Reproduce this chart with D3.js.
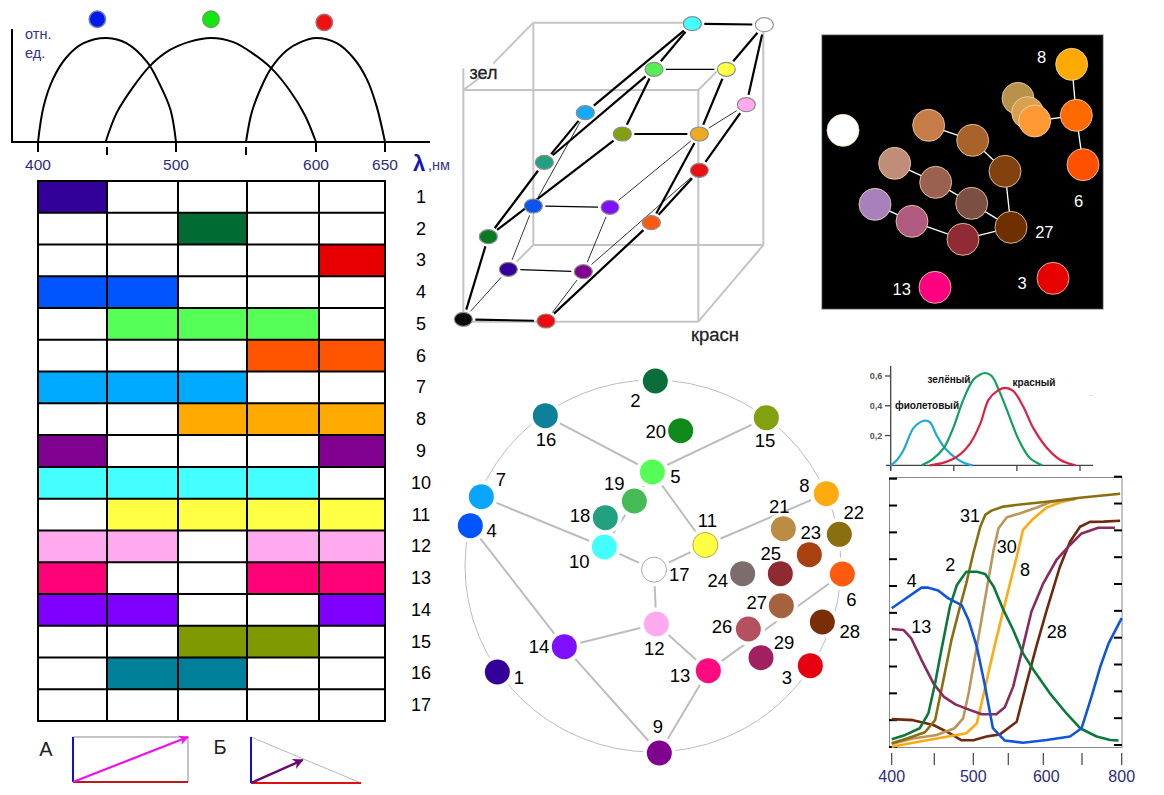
<!DOCTYPE html>
<html><head><meta charset="utf-8">
<style>html,body{margin:0;padding:0;background:#fff}svg{display:block}text{font-family:"Liberation Sans",Arial,sans-serif}</style>
<script src="https://cdn.jsdelivr.net/npm/d3@7/dist/d3.min.js"></script>
</head><body><svg id="c" width="1164" height="795"></svg>
<script>
// ---- Panel 1: sensitivity curves
const coneTicks=[400,450,500,550,600,650];
const coneLabels=[400,500,600,650];
const coneBlue=[[400,0],[404,.34],[411,.61],[421,.82],[433,.95],[450,1],[464,.95],[479,.77],[488,.56],[496,.31],[500,0]];
const coneGreen=[[449,0],[457,.28],[469,.53],[481,.73],[495,.88],[510,.965],[525,1],[541,.96],[555,.85],[568,.71],[581,.50],[592,.26],[600,0]];
const coneRed=[[550,0],[554,.28],[560,.5],[568,.71],[579,.88],[589,.96],[600,1],[615,.95],[627,.81],[637,.6],[644,.34],[650,0]];
const coneDotNm=[443,525,606];
const coneDotLevel=[1.18,1.18,1.15];
const coneDotFill=["#0018e8","#10e810","#f01010"];
const coneDotStroke=["#6a7cc8","#5aa85a","#b06a6a"];
// ---- Panel 2: table of spectral zones
const tableRows=d3.range(1,18);
const tableBands=[0,1,2,3,4];
const rowBands=[[0],[2],[4],[0,1],[1,2,3],[3,4],[0,1,2],[2,3,4],[0,4],[0,1,2,3],[1,2,3,4],[0,1,3,4],[0,3,4],[0,1,4],[2,3],[1,2],[]];
const rowColors=["#330099","#006b33","#e60000","#0055ff","#55ff55","#ff5500","#00aaff","#ffaa00","#800090","#44ffff","#ffff44","#ffaaee","#ff0077","#7f00ff","#7f9900","#008099","#ffffff"];
// ---- Panel 3: cube (reading units)
const cubeFront=[[40,270],[745,270],[745,965],[40,965]];
const cubeBack=[[250,68],[940,68],[940,735],[250,735]];
const cubeNodes=[[40,958],[288,963],[175,808],[400,815],[115,710],[604,668],[250,618],[480,622],[283,487],[517,402],[748,402],[748,511],[406,338],[889,314],[612,208],[829,208],[727,71],[943,74]];
const cubeColors=["#0a0a0a","#ee0a10","#330099","#800090","#0a7a20","#ff5a10","#0a55f0","#7f10ff","#22a080","#84a010","#eeaa22","#e81010","#10aaff","#ffaaee","#55ee55","#ffff44","#44ffff","#ffffff"];
const cubeThick=[[0,1],[0,4],[1,5],[4,8],[4,9],[5,10],[5,11],[8,12],[8,14],[12,16],[14,16],[9,14],[9,10],[10,15],[11,13],[13,17],[15,17],[16,17]];
const cubeMedium=[[2,3],[6,7],[14,15]];
const cubeThin=[[0,2],[2,6],[1,3],[3,7],[3,11],[6,12],[7,10],[10,13]];
// ---- Panel 4: black panel
const darkNodes=[[770,103],[784,256],[804,404],[609,205],[638,248],[659,273],[84,301],[341,286],[473,331],[570,424],[239,400],[362,457],[470,520],[588,592],[180,523],[291,574],[444,628],[360,772],[714,745]];
const darkColors=["#ffaa00","#ff6a00","#ff5000","#b8914a","#d9a050","#ff9933","#ffffff","#c67c46","#a9622a","#82420f","#c08e78","#9a6150","#7c4f42","#6f3000","#a880bb","#b05a80","#902a35","#ff0080","#e60000"];
const darkEdges=[[0,1],[1,2],[5,1],[7,8],[8,9],[9,13],[10,11],[11,12],[12,13],[14,15],[15,16],[16,13]];
const darkLabels=[["8",680,80],["6",791,512],["27",688,605],["13",260,777],["3",621,760]];
// ---- Panel 5: colour circle
const wheelIds=[2,16,15,20,5,19,18,7,4,10,11,17,8,21,22,23,25,24,6,27,26,28,29,3,13,12,14,1,9];
const wheelPos=[[616,63],[286,167],[949,173],[692,212],[607,336],[553,423],[466,473],[94,410],[61,497],[463,561],[766,555],[612,629],[1129,401],[1000,506],[1168,523],[1078,584],[991,641],[878,641],[1177,642],[994,737],[895,807],[1117,786],[933,893],[1081,917],[775,932],[619,792],[343,860],[142,936],[628,1179]];
const wheelLabelPos=[[556,122],[288,238],[945,242],[617,214],[676,350],[493,371],[390,466],[153,357],[125,512],[388,604],[772,482],[688,642],[1063,376],[988,440],[1211,458],[1082,516],[962,581],[803,661],[1204,719],[920,727],[816,800],[1199,814],[1002,848],[1011,951],[690,947],[613,864],[267,858],[207,951],[624,1100]];
const wheelColors=["#0b6e3a","#0f8099","#82a010","#118a1c","#55ff55","#44bb55","#22a080","#0aa5ff","#0055ff","#44ffff","#ffff44","#ffffff","#ffaa11","#bb8c44","#8a6f10","#a84010","#8f2a30","#7c6c6c","#ff5a10","#a5623f","#b55060","#7a2e08","#a02060","#e60010","#ff0a80","#ffaaee","#7f10ff","#330099","#800090"];
const wheelEdges=[[16,5],[15,5],[5,19],[19,10],[5,11],[7,10],[10,17],[11,17],[11,8],[17,12],[12,14],[12,13],[14,4],[14,9],[13,9],[13,6]];
// ---- Panel 6: small cone curves
const smallTicksX=[400,500,600,700];
const smallTicksY=[.2,.4,.6];
const smallTickLabels=["0,2","0,4","0,6"];
const smallViolet=[[400,0],[410,.036],[420,.10],[436,.25],[447,.29],[454,.30],[462,.29],[473,.20],[486,.115],[505,.043],[518,.013],[530,0]];
const smallGreen=[[449,0],[465,.036],[484,.115],[499,.25],[515,.44],[531,.575],[542,.61],[550,.62],[560,.60],[573,.49],[587,.34],[603,.17],[621,.047],[640,0]];
const smallRed=[[462,0],[484,.018],[505,.058],[526,.148],[542,.28],[555,.44],[569,.50],[581,.52],[594,.50],[610,.395],[626,.25],[648,.115],[669,.036],[693,0]];
const smallLabels=[["зелёный",949,379],["красный",1034,382],["фиолетовый",927,405]];
// ---- Panel 7: reflectance spectra
const specTicks=[400,450,500,550,600,700,800];
const specLabels=[400,500,600,800];
const specLevels=d3.range(0,101,10);
const spec4=[[400,51.7],[414,54.8],[435,59.4],[443,59.4],[455,58.3],[468,55.4],[485,52.9],[494,47.3],[505,37.4],[516,23.7],[528,7],[545,2.4],[571,1.6],[609,2.6],[669,3.9],[699,7],[724,18.8],[746,29.9],[767,38.6],[800,48]];
const spec13=[[400,44],[414,43.6],[423,40.5],[435,32.4],[449,23.7],[462,18.8],[477,15.9],[491,14.3],[512,12.2],[533,12.2],[545,14.8],[557,22.5],[571,37.4],[583,50.4],[600,61],[634,69.7],[669,75.3],[699,79.6],[741,81.7],[783,81.7]];
const spec2=[[400,2.9],[416,4.5],[433,7],[443,12.5],[451,23.7],[459,36.1],[470,52.3],[479,60.4],[491,65.3],[505,65.3],[517,64.5],[529,59.8],[543,51.1],[557,43.6],[571,34.9],[586,28.7],[617,20],[660,12.5],[695,7],[737,3.9],[771,2.6],[792,2.4]];
const spec31=[[400,1.4],[418,3.2],[439,5.5],[451,10],[459,21.2],[472,39.9],[483,52.3],[491,61],[500,72.2],[510,82.1],[517,86.5],[526,88.1],[543,89.6],[567,90.4],[609,91.4],[695,92.9],[796,94.4]];
const spec30=[[400,1.1],[425,3.2],[453,4.5],[476,7],[487,10.7],[494,20],[505,37.4],[519,58.5],[529,73.4],[536,81.5],[548,85.6],[567,87.1],[590,89.2],[617,91.2],[682,92.4]];
const spec8=[[400,.1],[425,1.6],[453,3.2],[491,5.1],[505,8.8],[514,18.8],[529,36.1],[543,51.1],[562,70.9],[571,80.9],[586,85.2],[609,89.3],[643,91.1],[686,92.7]];
const spec28=[[400,10.4],[425,10],[449,8.2],[470,5.1],[485,2.5],[500,2.5],[519,3.9],[538,4.7],[562,9.4],[576,23.7],[590,37.4],[609,51.1],[643,67.2],[669,76.5],[695,82.1],[720,83.9],[754,84],[796,84.3]];
const specSeries=[spec28,spec8,spec30,spec31,spec13,spec2,spec4];
const specColors=["#6e2a10","#ffaa11","#bb955a","#8a6f10","#8a2a60","#0a7a3a","#1155dd"];
const specNames=[["31",300,137],["30",410,230],["2",241,284],["8",465,300],["4",125,333],["13",154,470],["28",560,487]];
// ---- Panel 8: vector diagrams
const vecA=[1,1];
const vecB=[.47,.5];

const svg=d3.select("#c");
const line=(g,x1,y1,x2,y2,c,w,extra)=>{const l=g.append("line").attr("x1",x1).attr("y1",y1).attr("x2",x2).attr("y2",y2).attr("stroke",c).attr("stroke-width",w);if(extra)l.attr("stroke-dasharray",extra);return l;};
const txt=(g,s,x,y,size,fill,weight)=>g.append("text").attr("x",x).attr("y",y).attr("text-anchor","middle").attr("dominant-baseline","central").attr("font-size",size).attr("fill",fill||"#000").attr("font-weight",weight||"normal").text(s);

// Panel 1
{
 const g=svg.append("g");
 const x=d3.scaleLinear().domain([400,500,600,650]).range([38,176,316,385]);
 const y=d3.scaleLinear().domain([0,1]).range([142,38]);
 line(g,12,29,12,143,"#000",2); line(g,11,142,430,142,"#000",2);
 const gen=d3.line().x(d=>x(d[0])).y(d=>y(d[1])).curve(d3.curveCatmullRom.alpha(.5));
 [coneBlue,coneGreen,coneRed].forEach(s=>g.append("path").attr("d",gen(s)).attr("fill","none").attr("stroke","#000").attr("stroke-width",2));
 coneTicks.forEach(t=>{const minor=coneLabels.indexOf(t)<0; line(g,x(t),minor?147:143,x(t),minor?155:152,"#000",2);});
 coneLabels.forEach(t=>txt(g,t,x(t),164,15.5,"#2c2c80"));
 g.append("text").attr("x",25).attr("y",39).attr("font-size",14.5).attr("fill","#33338a").text("отн.");
 g.append("text").attr("x",25).attr("y",58).attr("font-size",14.5).attr("fill","#33338a").text("ед.");
 g.append("text").attr("x",413).attr("y",171).attr("font-size",22).attr("font-weight","bold").attr("fill","#1414b0").text("λ");
 g.append("text").attr("x",428).attr("y",170).attr("font-size",14.5).attr("fill","#33338a").text(",нм");
 coneDotNm.forEach((n,i)=>g.append("circle").attr("cx",x(n)).attr("cy",y(coneDotLevel[i])).attr("r",8.2).attr("fill",coneDotFill[i]).attr("stroke",coneDotStroke[i]).attr("stroke-width",1.5));
}
// Panel 2
{
 const g=svg.append("g");
 const edges=[38,107,178,247,319,385];
 const bx=d3.scaleOrdinal().domain(tableBands).range(edges.slice(0,5));
 const bw=d3.scaleOrdinal().domain(tableBands).range(d3.pairs(edges).map(p=>p[1]-p[0]));
 const ry=d3.scaleBand().domain(tableRows).range([181,721]);
 rowBands.forEach((b,i)=>b.forEach(k=>g.append("rect").attr("x",bx(k)).attr("y",ry(tableRows[i])).attr("width",bw(k)).attr("height",ry.bandwidth()).attr("fill",rowColors[i])));
 tableRows.forEach(r=>line(g,38,ry(r),385,ry(r),"#000",2));
 line(g,37,721,386,721,"#000",2);
 edges.forEach(e=>line(g,e,180,e,722,"#000",2));
 tableRows.forEach(r=>txt(g,r,421,ry(r)+ry.bandwidth()/2,18,"#000"));
}
// Panel 3
{
 const g=svg.append("g");
 const x=d3.scaleLinear().domain([0,1020]).range([450,790]);
 const y=d3.scaleLinear().domain([0,1050]).range([0,350]);
 const gray="#c4c4c4";
 const seg=(a,b,c,w)=>line(g,x(a[0]),y(a[1]),x(b[0]),y(b[1]),c,w);
 seg([40,205],[40,965],gray,2); seg([40,270],[745,270],gray,2); seg([745,270],[745,965],gray,2); seg([40,965],[745,965],gray,2);
 seg(cubeBack[0],[700,68],gray,2); seg(cubeBack[0],cubeBack[3],gray,2); seg(cubeBack[3],cubeBack[2],gray,2); seg(cubeBack[2],[940,95],gray,2);
 seg(cubeBack[0],[130,190],gray,2); seg([100,225],cubeFront[0],gray,2); seg(cubeFront[1],[800,215],gray,2); seg(cubeFront[2],cubeBack[2],gray,2); seg(cubeBack[3],[200,785],gray,2);
 const short=(a,b,w)=>{const A=cubeNodes[a],B=cubeNodes[b];const dx=B[0]-A[0],dy=B[1]-A[1],L=Math.hypot(dx,dy);const ux=dx/L,uy=dy/L;
  const gap=1/Math.hypot(ux/27,uy/21)+9;
  seg([A[0]+ux*gap,A[1]+uy*gap],[B[0]-ux*gap,B[1]-uy*gap],"#000",w);};
 cubeThin.forEach(e=>short(e[0],e[1],.8));
 cubeMedium.forEach(e=>short(e[0],e[1],1.3));
 cubeThick.forEach(e=>short(e[0],e[1],2.2));
 cubeNodes.forEach((n,i)=>g.append("ellipse").attr("cx",x(n[0])).attr("cy",y(n[1])).attr("rx",9).attr("ry",7).attr("fill",cubeColors[i]).attr("stroke",i==17?"#999":"#8c8c8c").attr("stroke-width",1.2));
 txt(g,"зел",483.5,73,18,"#222").attr("stroke","#222").attr("stroke-width",.3);
 txt(g,"красн",715,334,18.5,"#222").attr("stroke","#222").attr("stroke-width",.3);
}
// Panel 4
{
 const g=svg.append("g");
 const x=d3.scaleLinear().domain([0,900]).range([815,1115]);
 const y=d3.scaleLinear().domain([0,855]).range([30,315]);
 g.append("rect").attr("x",x(20)).attr("y",y(14)).attr("width",x(865)-x(20)).attr("height",y(838)-y(14)).attr("fill","#000").attr("stroke","#bbb").attr("stroke-width",1);
 darkEdges.forEach(e=>line(g,x(darkNodes[e[0]][0]),y(darkNodes[e[0]][1]),x(darkNodes[e[1]][0]),y(darkNodes[e[1]][1]),"#fff",1.3));
 darkNodes.forEach((n,i)=>g.append("circle").attr("cx",x(n[0])).attr("cy",y(n[1])).attr("r",16).attr("fill",darkColors[i]).attr("stroke","#f3d8b0").attr("stroke-width",.8));
 darkLabels.forEach(l=>txt(g,l[0],x(l[1]),y(l[2]),16.5,"#fff"));
}
// Panel 5
{
 const g=svg.append("g");
 const sx=d3.scaleLinear().domain([0,420*3]).range([450,870]), sy=d3.scaleLinear().domain([0,420*3]).range([360,780]);
 g.append("ellipse").attr("cx",653).attr("cy",566).attr("rx",188).attr("ry",186).attr("fill","none").attr("stroke","#bdbdbd").attr("stroke-width",1);
 wheelEdges.forEach(e=>{const a=wheelPos[wheelIds.indexOf(e[0])],b=wheelPos[wheelIds.indexOf(e[1])];
  line(g,sx(a[0]),sy(a[1]),sx(b[0]),sy(b[1]),"#bdbdbd",2);});
 wheelPos.forEach(p=>g.append("circle").attr("cx",sx(p[0])).attr("cy",sy(p[1])).attr("r",16.5).attr("fill","#fff"));
 wheelPos.forEach((p,i)=>g.append("circle").attr("cx",sx(p[0])).attr("cy",sy(p[1])).attr("r",12.5).attr("fill",wheelColors[i]).attr("stroke",wheelIds[i]==17?"#aaa":wheelIds[i]==11?"#b0b030":"none").attr("stroke-width",1));
 wheelLabelPos.forEach((p,i)=>txt(g,wheelIds[i],sx(p[0]),sy(p[1]),18.5,"#000"));
}
// Panel 6
{
 const g=svg.append("g");
 const x=d3.scaleLinear().domain([400,700]).range([890.7,1080]);
 const y=d3.scaleLinear().domain([0,.6]).range([465.3,376]);
 line(g,890.7,366,890.7,470,"#444",1.3); line(g,886,465.3,1093,465.3,"#444",1.3);
 smallTicksX.forEach(t=>line(g,x(t),465.3,x(t),471,"#444",1.3));
 smallTicksY.forEach((t,i)=>{line(g,885,y(t),890.7,y(t),"#444",1.3);txt(g,smallTickLabels[i],876,y(t),9,"#555","bold");});
 const gen=d3.line().x(d=>x(d[0])).y(d=>y(d[1])).curve(d3.curveCatmullRom.alpha(.5));
 [[smallViolet,"#1caad6"],[smallGreen,"#12a05c"],[smallRed,"#dd2040"]].forEach(s=>g.append("path").attr("d",gen(s[0])).attr("fill","none").attr("stroke",s[1]).attr("stroke-width",2.2));
 smallLabels.forEach(l=>txt(g,l[0],l[1],l[2],10,"#111","bold"));
 txt(g,"..",1091,393,8,"#999");
}
// Panel 7
{
 const g=svg.append("g");
 const x=d3.scaleLinear().domain(specTicks).range([891.7,934.3,973.3,1008.3,1043.3,1082,1121.7]);
 const y=d3.scaleLinear().domain([0,100]).range([747,478.7]);
 g.append("rect").attr("x",889.5).attr("y",477.5).attr("width",232.5).attr("height",270).attr("fill","none").attr("stroke","#8a8a8a").attr("stroke-width",1);
 specLevels.forEach(v=>{line(g,889,y(v),897,y(v),"#000",2);line(g,1114,y(v)-2,1122,y(v)-2,"#000",2);});
 specTicks.forEach(t=>line(g,x(t),753,x(t),765,"#444",1.2));
 specLabels.forEach(t=>txt(g,t,x(t)+(t==600?3:0),776,16,"#2c2c80"));
 const gen=d3.line().x(d=>x(d[0])).y(d=>y(d[1]));
 specSeries.forEach((s,i)=>g.append("path").attr("d",gen(s)).attr("fill","none").attr("stroke",specColors[i]).attr("stroke-width",2.6).attr("stroke-linejoin","round"));
 specNames.forEach(l=>txt(g,l[0],870+l[1]/3,470+l[2]/3,18,"#000"));
}
// Panel 8
{
 const g=svg.append("g");
 const defs=svg.append("defs");
 [["mA","#ee10ee"],["mB","#6a0a70"]].forEach(m=>defs.append("marker").attr("id",m[0]).attr("viewBox","0 0 10 10").attr("refX",9).attr("refY",5).attr("markerWidth",4.5).attr("markerHeight",4.5).attr("orient","auto").append("path").attr("d","M0,0L10,5L0,10L3,5Z").attr("fill",m[1]));
 const ax=d3.scaleLinear().domain([0,1]).range([73,188]), ay=d3.scaleLinear().domain([0,1]).range([782,737]);
 txt(g,"А",46,749,20,"#222");
 line(g,ax(0),ay(1),ax(1),ay(1),"#888",1); line(g,ax(1),ay(1),ax(1),ay(0),"#888",1);
 line(g,ax(0),ay(0),ax(1),ay(0),"#c01818",2.2); line(g,ax(0),ay(0),ax(0),ay(1),"#1010d0",2);
 line(g,ax(0),ay(0),ax(vecA[0]),ay(vecA[1]),"#ee10ee",2.2).attr("marker-end","url(#mA)");
 const bx=d3.scaleLinear().domain([0,1]).range([251,361]), by=d3.scaleLinear().domain([0,1]).range([783,737]);
 txt(g,"Б",220,747,20,"#222");
 line(g,bx(0),by(1),bx(1),by(0),"#b8b8b8",1);
 line(g,bx(0),by(0),bx(1),by(0),"#e01010",2.2); line(g,bx(0),by(0),bx(0),by(1),"#1010d0",2);
 line(g,bx(0),by(0),bx(vecB[0]),by(vecB[1]),"#6a0a70",2.4).attr("marker-end","url(#mB)");
}
</script></body></html>
